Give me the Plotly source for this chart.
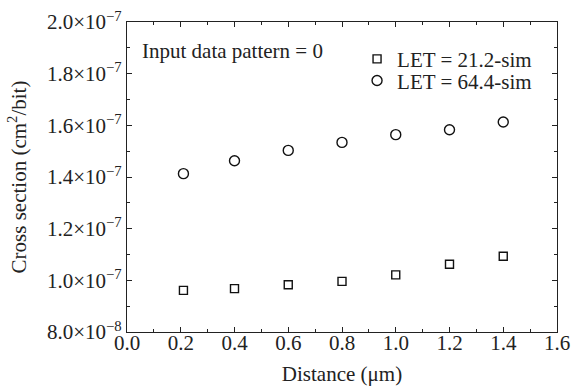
import plotly.graph_objects as go

distance = [0.21, 0.4, 0.6, 0.8, 1.0, 1.2, 1.4]
let_21_2 = [0.961e-7, 0.968e-7, 0.983e-7, 0.996e-7, 1.021e-7, 1.062e-7, 1.093e-7]
let_64_4 = [1.413e-7, 1.463e-7, 1.503e-7, 1.534e-7, 1.564e-7, 1.583e-7, 1.613e-7]

y_tickvals = [8.0e-8, 1.0e-7, 1.2e-7, 1.4e-7, 1.6e-7, 1.8e-7, 2.0e-7]
y_ticktext = ["8.0×10<sup>−8</sup>", "1.0×10<sup>−7</sup>", "1.2×10<sup>−7</sup>",
              "1.4×10<sup>−7</sup>", "1.6×10<sup>−7</sup>", "1.8×10<sup>−7</sup>",
              "2.0×10<sup>−7</sup>"]
x_tickvals = [0.0, 0.2, 0.4, 0.6, 0.8, 1.0, 1.2, 1.4, 1.6]
x_ticktext = ["0.0", "0.2", "0.4", "0.6", "0.8", "1.0", "1.2", "1.4", "1.6"]

FONT = "Liberation Serif, Times New Roman, serif"
AX = "#222"
FS = 21

fig = go.Figure()
fig.add_trace(go.Scatter(
    x=distance, y=let_21_2, mode="markers", name="LET = 21.2-sim", legend="legend",
    marker=dict(symbol="square-open", size=8, color="#111", line=dict(width=1.4)),
))
fig.add_trace(go.Scatter(
    x=distance, y=let_64_4, mode="markers", name="LET = 64.4-sim", legend="legend2",
    marker=dict(symbol="circle-open", size=10, color="#111", line=dict(width=1.4)),
))

axis_common = dict(
    showline=True, linecolor=AX, linewidth=1.2, mirror="ticks",
    ticks="inside", tickcolor=AX, ticklen=5, tickwidth=1,
    showgrid=False, zeroline=False, automargin=False,
    tickfont=dict(family=FONT, size=FS, color="#222"),
)

leg_common = dict(xanchor="left", yanchor="middle", bgcolor="rgba(0,0,0,0)",
                  font=dict(family=FONT, size=FS, color="#222"), itemwidth=30)

fig.update_layout(
    width=572, height=389,
    margin=dict(l=127, r=15, t=22, b=57),
    paper_bgcolor="white", plot_bgcolor="white",
    font=dict(family=FONT, size=FS, color="#222"),
    showlegend=True,
    legend=dict(x=0.535, y=0.880, **leg_common),
    legend2=dict(x=0.535, y=0.810, **leg_common),
    xaxis=dict(range=[0, 1.6], tickvals=x_tickvals, ticktext=x_ticktext,
               ticklabelstandoff=-8,
               minor=dict(dtick=0.1, ticks="inside", ticklen=3, tickcolor=AX),
               title=dict(text="Distance (μm)", font=dict(family=FONT, size=FS), standoff=12),
               **axis_common),
    yaxis=dict(range=[8.0e-8, 2.0e-7], tickvals=y_tickvals, ticktext=y_ticktext,
               minor=dict(tickvals=[9e-8, 1.1e-7, 1.3e-7, 1.5e-7, 1.7e-7, 1.9e-7],
                          ticks="inside", ticklen=3, tickcolor=AX),
               title=dict(text="Cross section (cm<sup>2</sup>/bit)", font=dict(family=FONT, size=FS), standoff=14),
               **axis_common),
    annotations=[dict(text="Input data pattern = 0", x=0.031, y=0.905, xref="paper", yref="paper",
                      xanchor="left", yanchor="middle", showarrow=False,
                      font=dict(family=FONT, size=FS, color="#222"))],
)

fig.write_html("out.html")
